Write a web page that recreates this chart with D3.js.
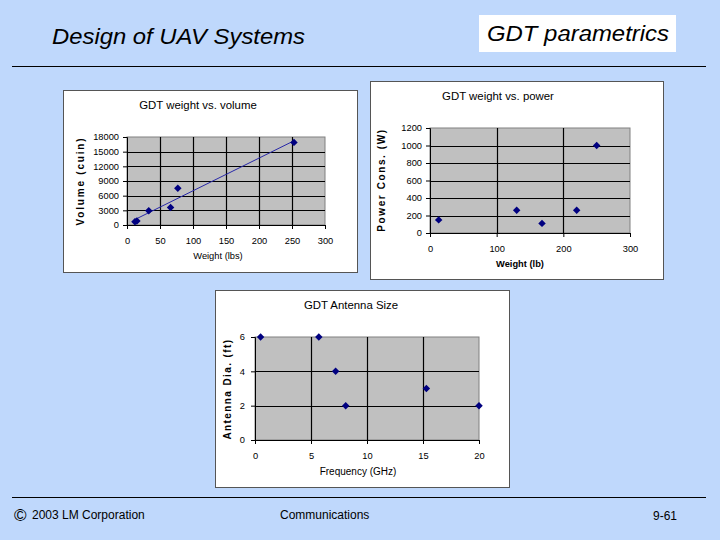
<!DOCTYPE html>
<html><head><meta charset="utf-8">
<script src="https://cdn.jsdelivr.net/npm/d3@7/dist/d3.min.js"></script>
<style>
html,body{margin:0;padding:0;background:#BFD8FC;}
svg{display:block;font-family:"Liberation Sans",Arial,sans-serif;}
</style></head>
<body>
<svg id="c" width="720" height="540"></svg>
<script>
// ---- data ----
const volWeight = [12, 15, 33, 66, 77, 253];
const volVolume = [650, 800, 2900, 3600, 7500, 16900];
const volXTicks = [0, 50, 100, 150, 200, 250, 300];
const volYTicks = [0, 3000, 6000, 9000, 12000, 15000, 18000];

const powWeight = [13, 130, 168, 220, 250];
const powPower = [150, 260, 110, 260, 1000];
const powXTicks = [0, 100, 200, 300];
const powYTicks = [0, 200, 400, 600, 800, 1000, 1200];

const antFreq = [0.5, 5.7, 7.2, 8.1, 15.3, 20];
const antDia = [6, 6, 4, 2, 3, 2];
const antXTicks = [0, 5, 10, 15, 20];
const antYTicks = [0, 2, 4, 6];

const svg = d3.select("#c");

// ---- header / footer ----
svg.append("text").attr("x", 52).attr("y", 44).attr("font-size", 21.5)
  .attr("font-style", "italic").attr("textLength", 253).attr("lengthAdjust", "spacingAndGlyphs")
  .text("Design of UAV Systems");
svg.append("rect").attr("x", 479).attr("y", 15).attr("width", 197).attr("height", 37).attr("fill", "#fff");
svg.append("text").attr("x", 487).attr("y", 41).attr("font-size", 21.5)
  .attr("font-style", "italic").attr("textLength", 182).attr("lengthAdjust", "spacingAndGlyphs")
  .text("GDT parametrics");
svg.append("line").attr("x1", 12).attr("x2", 706).attr("y1", 66.5).attr("y2", 66.5).attr("stroke", "#000").attr("stroke-width", 1);
svg.append("line").attr("x1", 12).attr("x2", 706).attr("y1", 497.5).attr("y2", 497.5).attr("stroke", "#000").attr("stroke-width", 1);
svg.append("text").attr("x", 14).attr("y", 521).attr("font-size", 17).text("\u00A9");
svg.append("text").attr("x", 32).attr("y", 519).attr("font-size", 12).text("2003 LM Corporation");
svg.append("text").attr("x", 280).attr("y", 519).attr("font-size", 12).text("Communications");
svg.append("text").attr("x", 653).attr("y", 520).attr("font-size", 12).text("9-61");

// ---- chart helper ----
function chart(o) {
  const g = svg.append("g");
  g.append("rect").attr("x", o.panel[0] + 0.5).attr("y", o.panel[1] + 0.5)
    .attr("width", o.panel[2] - o.panel[0]).attr("height", o.panel[3] - o.panel[1])
    .attr("fill", "#fff").attr("stroke", "#555").attr("stroke-width", 1);
  const [L, T, R, B] = o.plot;
  const x = d3.scaleLinear().domain(o.xd).range([L, R]);
  const y = d3.scaleLinear().domain(o.yd).range([B, T]);
  g.append("rect").attr("x", L).attr("y", T).attr("width", R - L).attr("height", B - T)
    .attr("fill", "#C0C0C0").attr("stroke", "#808080");
  // gridlines
  g.append("g").selectAll("line").data(o.yt.filter(v => v !== o.yd[0] && v !== o.yd[1])).join("line")
    .attr("x1", L).attr("x2", R).attr("y1", d => Math.round(y(d)) + 0.5).attr("y2", d => Math.round(y(d)) + 0.5)
    .attr("stroke", "#000").attr("stroke-width", 1.2);
  g.append("g").selectAll("line").data(o.xt.filter(v => v !== o.xd[0] && v !== o.xd[1])).join("line")
    .attr("y1", T).attr("y2", B).attr("x1", d => Math.round(x(d)) + 0.5).attr("x2", d => Math.round(x(d)) + 0.5)
    .attr("stroke", "#000").attr("stroke-width", 1.2);
  // axes
  const ax = g.append("g").attr("transform", `translate(0,${B})`)
    .call(d3.axisBottom(x).tickValues(o.xt).tickSize(4).tickPadding(o.xpad || 8).tickFormat(d3.format("d")));
  const ay = g.append("g").attr("transform", `translate(${L},0)`)
    .call(d3.axisLeft(y).tickValues(o.yt).tickSize(4).tickPadding(o.ypad || 4).tickFormat(d3.format("d")));
  [ax, ay].forEach(a => {
    a.select(".domain").attr("stroke", "#000");
    a.selectAll(".tick line").attr("stroke", "#000");
    a.selectAll("text").attr("font-family", "Liberation Sans, Arial, sans-serif").attr("font-size", 9.3).attr("fill", "#000");
  });
  // trendline
  if (o.trend) {
    const mx = d3.mean(o.xs), my = d3.mean(o.ys);
    const sxy = d3.sum(o.xs, (v, i) => (v - mx) * (o.ys[i] - my));
    const sxx = d3.sum(o.xs, v => (v - mx) * (v - mx));
    const m = sxy / sxx, b = my - m * mx;
    const ext = d3.extent(o.xs);
    g.append("line").attr("x1", x(ext[0])).attr("y1", y(m * ext[0] + b))
      .attr("x2", x(ext[1])).attr("y2", y(m * ext[1] + b))
      .attr("stroke", "#2828A8").attr("stroke-width", 1);
  }
  // points
  const sym = d3.symbol().type(d3.symbolSquare).size(28);
  g.append("g").selectAll("path").data(o.xs.map((v, i) => [v, o.ys[i]])).join("path")
    .attr("d", sym).attr("fill", "#000080")
    .attr("transform", d => `translate(${x(d[0])},${y(d[1])}) rotate(45)`);
  // labels
  g.append("text").attr("x", o.title[0]).attr("y", o.title[1]).attr("text-anchor", "middle")
    .attr("font-size", 11.4).text(o.title[2]);
  g.append("text").attr("x", o.xl[0]).attr("y", o.xl[1]).attr("text-anchor", "middle")
    .attr("font-size", o.xl[3]).attr("font-weight", o.xl[4] ? "bold" : "normal").text(o.xl[2]);
  g.append("text").attr("transform", `translate(${o.yl[0]},${o.yl[1]}) rotate(-90)`)
    .attr("text-anchor", "middle").attr("font-size", 10).attr("font-weight", "bold")
    .attr("letter-spacing", o.yl[3]).text(o.yl[2]);
}

chart({
  panel: [63, 90, 357, 272], plot: [127, 137, 325, 225],
  xd: [0, 300], yd: [0, 18000], xt: volXTicks, yt: volYTicks,
  xs: volWeight, ys: volVolume, trend: true,
  title: [198, 109, "GDT weight vs. volume"],
  xl: [218, 259, "Weight (lbs)", 9.3, false],
  yl: [84, 181, "Volume (cuin)", 1.8]
});
chart({
  panel: [370, 81, 663, 279], plot: [430, 128, 630, 233],
  xd: [0, 300], yd: [0, 1200], xt: powXTicks, yt: powYTicks,
  xs: powWeight, ys: powPower,
  title: [498, 100, "GDT weight vs. power"],
  xl: [520, 267, "Weight (lb)", 9.3, true],
  yl: [385, 180, "Power Cons. (W)", 1.6]
});
chart({
  panel: [215, 290, 509, 487], plot: [255, 337, 479, 440],
  xd: [0, 20], yd: [0, 6], xt: antXTicks, yt: antYTicks,
  xs: antFreq, ys: antDia, ypad: 6,
  title: [351, 309, "GDT Antenna Size"],
  xl: [358, 475, "Frequency (GHz)", 10, false],
  yl: [231, 389, "Antenna Dia. (ft)", 1.4]
});
</script>
</body></html>
